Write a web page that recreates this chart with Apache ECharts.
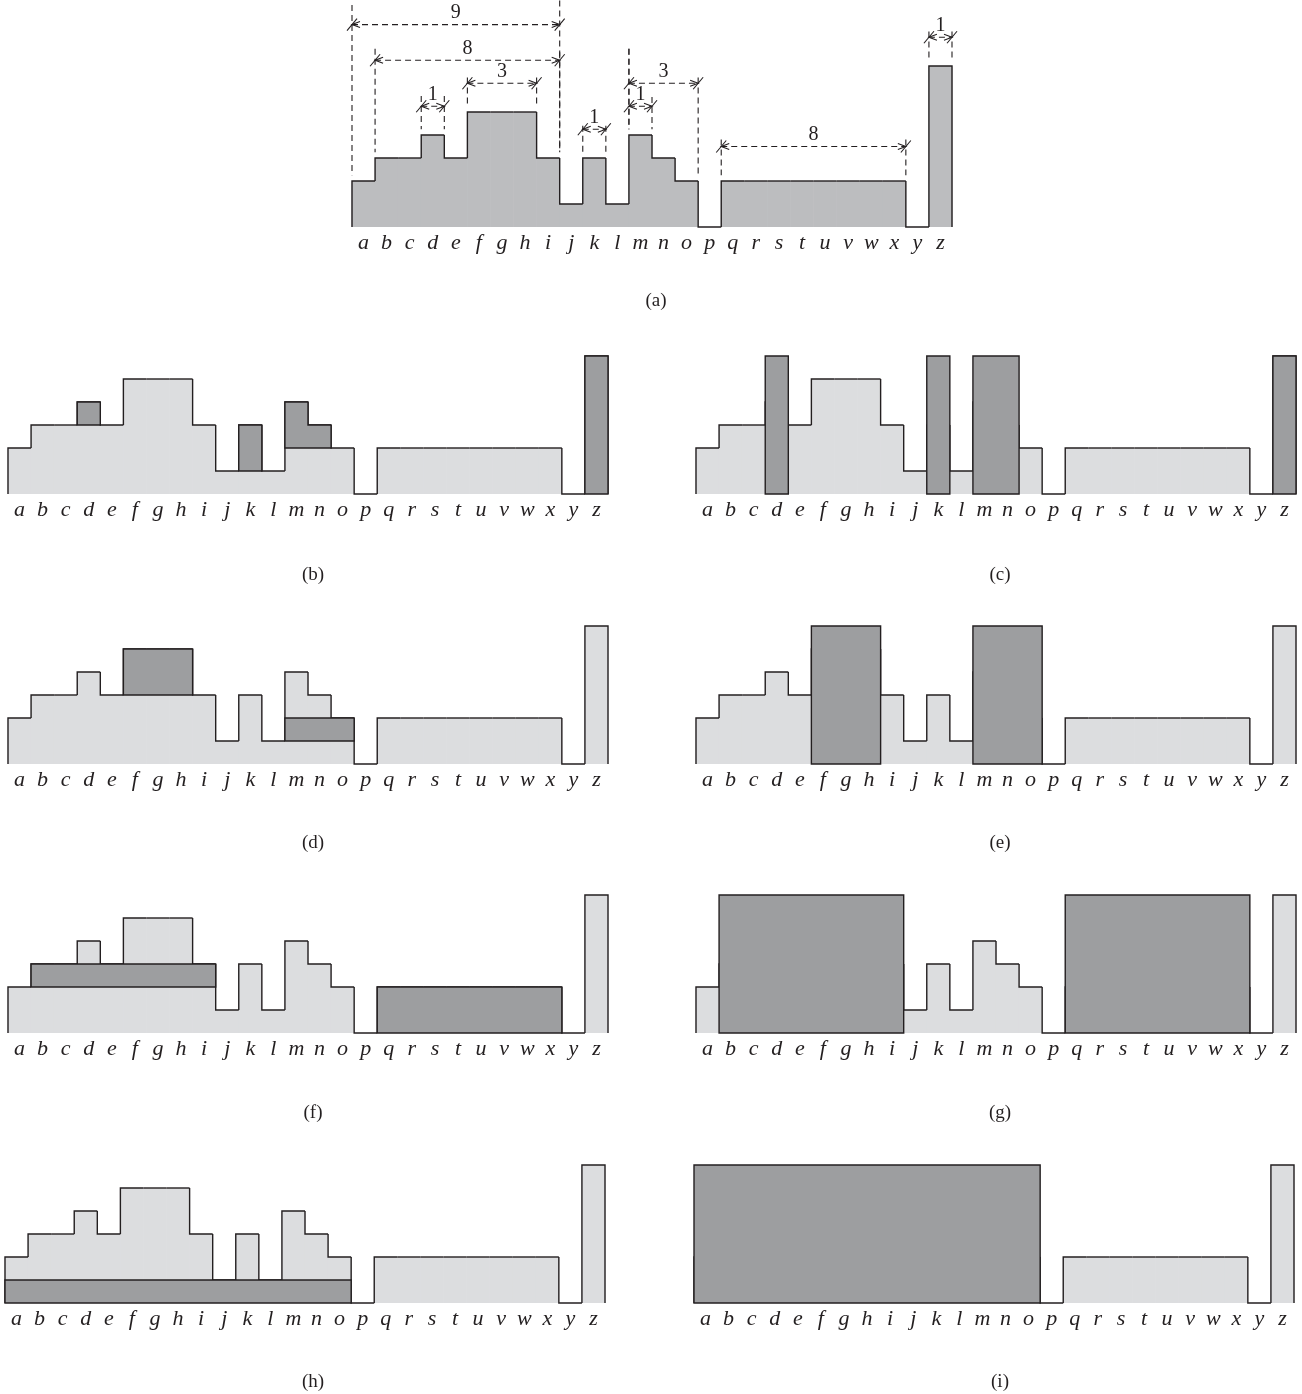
<!DOCTYPE html>
<html>
<head>
<meta charset="utf-8">
<script src="https://cdn.jsdelivr.net/npm/echarts@6/dist/echarts.min.js"></script>
<style>
    html, body { margin: 0; padding: 0; background: #fff; }
    #main { width: 1302px; height: 1394px; }
</style>
</head>
<body>
<div id="main"></div>
<script>
    // categories
    const letters = ['a','b','c','d','e','f','g','h','i','j','k','l','m','n','o','p','q','r','s','t','u','v','w','x','y','z'];

    // histogram heights (a) and (b)-(i)
    const heightsA = [2,3,3,4,3,5,5,5,3,1,3,1,4,3,2,0,2,2,2,2,2,2,2,2,0,7];
    const heights  = [2,3,3,4,3,5,5,5,3,1,3,1,4,3,2,0,2,2,2,2,2,2,2,2,0,6];

    // dark shapes: [first letter, bottom, tops per column]
    const darkB = [['d', 3, [4]], ['k', 1, [3]], ['m', 2, [4, 3]], ['z', 0, [6]]];
    const darkC = [['d', 0, [6]], ['k', 0, [6]], ['m', 0, [6, 6]], ['z', 0, [6]]];
    const darkD = [['f', 3, [5, 5, 5]], ['m', 1, [2, 2, 2]]];
    const darkE = [['f', 0, [6, 6, 6]], ['m', 0, [6, 6, 6]]];
    const darkF = [['b', 2, [3, 3, 3, 3, 3, 3, 3, 3]], ['q', 0, [2, 2, 2, 2, 2, 2, 2, 2]]];
    const darkG = [['b', 0, [6, 6, 6, 6, 6, 6, 6, 6]], ['q', 0, [6, 6, 6, 6, 6, 6, 6, 6]]];
    const darkH = [['a', 0, [1, 1, 1, 1, 1, 1, 1, 1, 1, 1, 1, 1, 1, 1, 1]]];
    const darkI = [['a', 0, [6, 6, 6, 6, 6, 6, 6, 6, 6, 6, 6, 6, 6, 6, 6]]];

    // dimension marks in (a): [from edge, to edge, level, label, left base, right base, left top, right top]
    const dimsA = [
        [0, 9, 8.8, '9', 2, 3, 9.65, 9.85],
        [1, 9, 7.25, '8', 3, 3, 7.75, 7.6],
        [3, 4, 5.25, '1', 4, 4, 5.7, 5.7],
        [5, 8, 6.25, '3', 5, 5, 6.5, 6.5],
        [10, 11, 4.25, '1', 3, 3, 4.4, 4.4],
        [12, 13, 5.25, '1', 4, 4, 7.75, 5.65],
        [12, 15, 6.25, '3', 4, 2, 7.75, 6.5],
        [16, 24, 3.5, '8', 2, 2, 3.8, 3.8],
        [25, 26, 8.25, '1', 7, 7, 8.5, 8.5]
    ];

    const panelNames = ['(a)', '(b)', '(c)', '(d)', '(e)', '(f)', '(g)', '(h)', '(i)'];

    const LINE = '#231f20';
    const DARK = '#9d9ea0';
    const UNIT = 23;
    const SERIF = "'Liberation Serif', 'DejaVu Serif', serif";

    const panels = [
        { left: 352, base: 227, max: 7, h: heightsA, fill: '#bcbdbf', dark: [], lx: 651, ly: 299 },
        { left: 8, base: 494, max: 6, h: heights, fill: '#dcdddf', dark: darkB, lx: 308, ly: 573 },
        { left: 696, base: 494, max: 6, h: heights, fill: '#dcdddf', dark: darkC, lx: 995, ly: 573 },
        { left: 8, base: 764, max: 6, h: heights, fill: '#dcdddf', dark: darkD, lx: 308, ly: 841 },
        { left: 696, base: 764, max: 6, h: heights, fill: '#dcdddf', dark: darkE, lx: 995, ly: 841 },
        { left: 8, base: 1033, max: 6, h: heights, fill: '#dcdddf', dark: darkF, lx: 308, ly: 1111 },
        { left: 696, base: 1033, max: 6, h: heights, fill: '#dcdddf', dark: darkG, lx: 995, ly: 1111 },
        { left: 5, base: 1303, max: 6, h: heights, fill: '#dcdddf', dark: darkH, lx: 308, ly: 1380 },
        { left: 694, base: 1303, max: 6, h: heights, fill: '#dcdddf', dark: darkI, lx: 995, ly: 1380 }
    ];

    function edgeX(api, e) {
        const bw = api.size([1, 0])[0];
        return api.coord([0, 0])[0] - bw / 2 + e * bw;
    }

    // light fill of one column
    function renderFill(fill) {
        return function (params, api) {
            const i = api.value(0);
            const x0 = edgeX(api, i);
            const x1 = edgeX(api, i + 1);
            const yTop = api.coord([i, api.value(1)])[1];
            const yBase = api.coord([i, 0])[1];
            return { type: 'rect', shape: { x: x0 - 0.3, y: yTop, width: x1 - x0 + 0.6, height: yBase - yTop }, style: { fill: fill } };
        };
    }

    // outline of one column: rise from previous height, top, and drop at the end
    function renderOutline(params, api) {
        const i = api.value(0);
        const x0 = edgeX(api, i);
        const x1 = edgeX(api, i + 1);
        const yTop = api.coord([i, api.value(1)])[1];
        const yBase = api.coord([i, 0])[1];
        const yPrev = api.coord([i, api.value(2)])[1];
        const pts = [[x0, yPrev], [x0, yTop], [x1, yTop]];
        if (api.value(3)) pts.push([x1, yBase]);
        return { type: 'polyline', shape: { points: pts }, style: { stroke: LINE, lineWidth: 1.4, fill: null, lineJoin: 'miter', lineCap: 'butt' } };
    }

    function renderDark(shapes) {
        return function (params, api) {
            const s = shapes[params.dataIndex];
            const start = letters.indexOf(s[0]);
            const yb = api.coord([start, s[1]])[1];
            const pts = [[edgeX(api, start), yb]];
            s[2].forEach(function (t, k) {
                const y = api.coord([start + k, t])[1];
                pts.push([edgeX(api, start + k), y]);
                pts.push([edgeX(api, start + k + 1), y]);
            });
            pts.push([edgeX(api, start + s[2].length), yb]);
            return { type: 'polygon', shape: { points: pts }, style: { fill: DARK, stroke: LINE, lineWidth: 1.4 } };
        };
    }

    function renderDim(params, api) {
        const d = dimsA[params.dataIndex];
        const xl = edgeX(api, d[0]);
        const xr = edgeX(api, d[1]);
        const y = api.coord([0, d[2]])[1];
        const dash = { stroke: LINE, lineWidth: 1.1, lineDash: [6, 4] };
        const solid = { stroke: LINE, lineWidth: 1.1, fill: null };
        const yBl = api.coord([0, d[4] + 0.25])[1];
        const yBr = api.coord([0, d[5] + 0.25])[1];
        const yTl = api.coord([0, d[6]])[1];
        const yTr = api.coord([0, d[7]])[1];
        return {
            type: 'group',
            children: [
                { type: 'line', shape: { x1: xl, y1: y, x2: xr, y2: y }, style: dash },
                { type: 'line', shape: { x1: xl, y1: yTl, x2: xl, y2: yBl }, style: dash },
                { type: 'line', shape: { x1: xr, y1: yTr, x2: xr, y2: yBr }, style: dash },
                { type: 'line', shape: { x1: xl - 5, y1: y + 6, x2: xl + 5, y2: y - 6 }, style: solid },
                { type: 'line', shape: { x1: xr - 5, y1: y + 6, x2: xr + 5, y2: y - 6 }, style: solid },
                { type: 'polyline', shape: { points: [[xl + 8, y - 3], [xl, y], [xl + 8, y + 3]] }, style: solid },
                { type: 'polyline', shape: { points: [[xr - 8, y - 3], [xr, y], [xr - 8, y + 3]] }, style: solid },
                {
                    type: 'text',
                    x: (xl + xr) / 2,
                    y: y - 2,
                    style: { text: d[3], fill: LINE, font: '20px ' + SERIF, align: 'center', verticalAlign: 'bottom' }
                }
            ]
        };
    }

    const grid = [], xAxis = [], yAxis = [], series = [], title = [];

    panels.forEach(function (p, k) {
        grid.push({ left: p.left, top: p.base - p.max * UNIT, width: 600, height: p.max * UNIT });
        xAxis.push({
            type: 'category',
            gridIndex: k,
            data: letters,
            boundaryGap: true,
            axisLine: { show: false },
            axisTick: { show: false },
            splitLine: { show: false },
            axisLabel: { interval: 0, margin: 5, fontFamily: SERIF, fontStyle: 'italic', fontSize: 22, color: LINE }
        });
        yAxis.push({ type: 'value', gridIndex: k, min: 0, max: p.max, show: false });

        const cols = p.h.map(function (v, i) {
            return [i, v, i > 0 ? p.h[i - 1] : 0, i === p.h.length - 1 ? 1 : 0];
        });
        series.push({
            type: 'custom', xAxisIndex: k, yAxisIndex: k, silent: true,
            renderItem: renderFill(p.fill), data: cols
        });
        series.push({
            type: 'custom', xAxisIndex: k, yAxisIndex: k, silent: true,
            renderItem: renderOutline, data: cols
        });
        if (p.dark.length) {
            series.push({
                type: 'custom', xAxisIndex: k, yAxisIndex: k, silent: true,
                renderItem: renderDark(p.dark),
                data: p.dark.map(function (s) { return [letters.indexOf(s[0]), s[1]]; })
            });
        }
        title.push({
            text: panelNames[k],
            left: p.lx,
            top: p.ly - 12,
            textAlign: 'center',
            textStyle: { fontFamily: SERIF, fontSize: 19, fontWeight: 'normal', color: LINE }
        });
    });

    series.push({
        type: 'custom',
        xAxisIndex: 0,
        yAxisIndex: 0,
        silent: true,
        clip: false,
        renderItem: renderDim,
        data: dimsA.map(function (d) { return [d[0], d[2]]; })
    });

    const chart = echarts.init(document.getElementById('main'));
    chart.setOption({
        animation: false,
        backgroundColor: '#fff',
        title: title,
        grid: grid,
        xAxis: xAxis,
        yAxis: yAxis,
        series: series
    });
</script>
</body>
</html>
